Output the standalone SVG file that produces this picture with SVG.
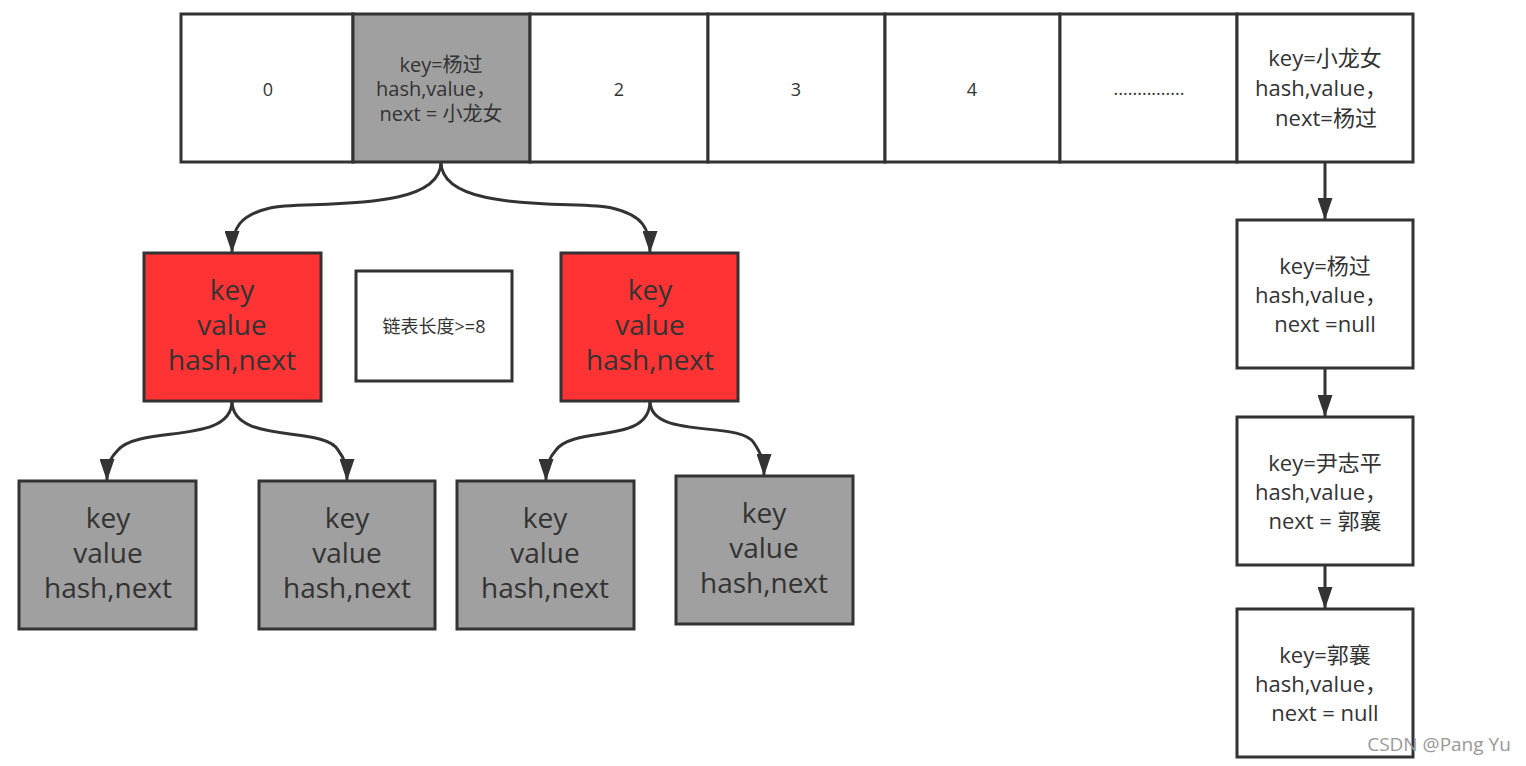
<svg xmlns="http://www.w3.org/2000/svg" width="1526" height="766" viewBox="0 0 1526 766">
<style>
.b{stroke:#333;stroke-width:3;}
.w{fill:#fff;}
.g{fill:#a0a0a0;}
.r{fill:#ff3333;}
text{font-family:"Open Sans","Noto Sans","Noto Sans CJK SC",sans-serif;fill:#333;text-anchor:middle;}
.s18{font-size:18px;}
.s20{font-size:20px;}
.s22{font-size:22px;}
.s28{font-size:28px;}
.c{fill:none;stroke:#333;stroke-width:3;}
</style>
<defs>
<marker id="a" viewBox="0 0 22 15" refX="21" refY="7.5" markerWidth="22" markerHeight="15" orient="auto" markerUnits="userSpaceOnUse">
<path d="M0,0 L22,7.5 L0,15 Z" fill="#333"/>
</marker>
</defs>
<g id="bucket0"><rect class="b w" x="181" y="14" width="172" height="148"/><text class="s18" x="268" y="96">0</text></g>
<g id="bucket1"><rect class="b g" x="353" y="14" width="177" height="148"/><text class="s20"><tspan x="441" y="72">key=杨过</tspan><tspan x="436" y="96">hash,value，</tspan><tspan x="441" y="121">next = 小龙女</tspan></text></g>
<g id="bucket2"><rect class="b w" x="530" y="14" width="178" height="148"/><text class="s18" x="619" y="96">2</text></g>
<g id="bucket3"><rect class="b w" x="708" y="14" width="177" height="148"/><text class="s18" x="796" y="96">3</text></g>
<g id="bucket4"><rect class="b w" x="885" y="14" width="175" height="148"/><text class="s18" x="972" y="96">4</text></g>
<g id="bucketDots"><rect class="b w" x="1060" y="14" width="177" height="148"/><text class="s18" x="1149" y="95">...............</text></g>
<g id="bucketLast"><rect class="b w" x="1237" y="14" width="176" height="148"/><text class="s22"><tspan x="1325" y="66">key=小龙女</tspan><tspan x="1321" y="96">hash,value，</tspan><tspan x="1326" y="126">next=杨过</tspan></text></g>

<g id="redL"><rect class="b r" x="144" y="253" width="177" height="148"/><text class="s28"><tspan x="232" y="300">key</tspan><tspan x="232" y="335">value</tspan><tspan x="232" y="370">hash,next</tspan></text></g>
<g id="note"><rect class="b w" x="356" y="271" width="156" height="110"/><text class="s18" x="434" y="333">链表长度&gt;=8</text></g>
<g id="redR"><rect class="b r" x="561" y="253" width="177" height="148"/><text class="s28"><tspan x="650" y="300">key</tspan><tspan x="650" y="335">value</tspan><tspan x="650" y="370">hash,next</tspan></text></g>

<g id="g1"><rect class="b g" x="19" y="481" width="177" height="148"/><text class="s28"><tspan x="108" y="528">key</tspan><tspan x="108" y="563">value</tspan><tspan x="108" y="598">hash,next</tspan></text></g>
<g id="g2"><rect class="b g" x="259" y="481" width="176" height="148"/><text class="s28"><tspan x="347" y="528">key</tspan><tspan x="347" y="563">value</tspan><tspan x="347" y="598">hash,next</tspan></text></g>
<g id="g3"><rect class="b g" x="457" y="481" width="177" height="148"/><text class="s28"><tspan x="545" y="528">key</tspan><tspan x="545" y="563">value</tspan><tspan x="545" y="598">hash,next</tspan></text></g>
<g id="g4"><rect class="b g" x="676" y="476" width="177" height="148"/><text class="s28"><tspan x="764" y="523">key</tspan><tspan x="764" y="558">value</tspan><tspan x="764" y="593">hash,next</tspan></text></g>

<g id="c1"><rect class="b w" x="1237" y="220" width="176" height="148"/><text class="s22"><tspan x="1325" y="274">key=杨过</tspan><tspan x="1321" y="303">hash,value，</tspan><tspan x="1325" y="332">next =null</tspan></text></g>
<g id="c2"><rect class="b w" x="1237" y="417" width="176" height="148"/><text class="s22"><tspan x="1325" y="471">key=尹志平</tspan><tspan x="1321" y="500">hash,value，</tspan><tspan x="1325" y="529">next = 郭襄</tspan></text></g>
<g id="c3"><rect class="b w" x="1237" y="609" width="176" height="148"/><text class="s22"><tspan x="1325" y="663">key=郭襄</tspan><tspan x="1321" y="692">hash,value，</tspan><tspan x="1325" y="721">next = null</tspan></text></g>

<g id="connectors">
<path class="c" marker-end="url(#a)" d="M441,162 C441,215 300,200 270,208 C240,215 232,228 232,252"/>
<path class="c" marker-end="url(#a)" d="M441,162 C441,215 582,200 612,208 C642,215 650,228 650,252"/>
<path class="c" marker-end="url(#a)" d="M232,401 C232,445 140,425 118,450 C110,458 107,465 107,480"/>
<path class="c" marker-end="url(#a)" d="M232,401 C232,445 324,425 338,450 C344,458 347,465 347,480"/>
<path class="c" marker-end="url(#a)" d="M650,401 C650,445 575,425 556,450 C549,458 546,465 546,480"/>
<path class="c" marker-end="url(#a)" d="M650,401 C650,440 740,420 754,443 C760,452 764,460 764,475"/>
<path class="c" marker-end="url(#a)" d="M1325,162 L1325,219"/>
<path class="c" marker-end="url(#a)" d="M1325,368 L1325,416"/>
<path class="c" marker-end="url(#a)" d="M1325,565 L1325,608"/>
</g>
<text x="1439" y="751" style="font-size:19px;fill:#999;">CSDN @Pang Yu</text>
</svg>
